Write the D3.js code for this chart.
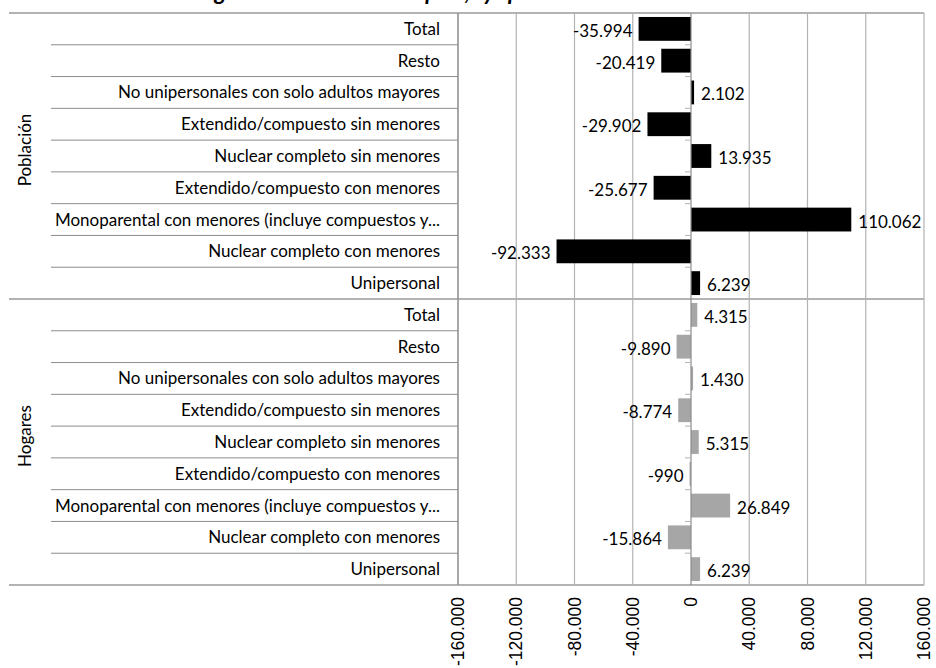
<!DOCTYPE html>
<html>
<head>
<meta charset="utf-8">
<script src="https://cdn.jsdelivr.net/npm/d3@7"></script>
<style>
  body { margin: 0; background: #fff; }
  svg { display: block; }
  .cat { font-family: Lato, "Open Sans", sans-serif; font-size: 17px; fill: #000; }
  .val { font-family: Lato, "Open Sans", sans-serif; font-size: 17px; fill: #000; }
  .tick-label { font-family: "Liberation Sans", Arial, sans-serif; font-size: 17.5px; fill: #000; }
</style>
</head>
<body>
<div id="chart"></div>
<script>
// Variación de hogares y población por tipo de hogar

const titleText = 'Variación de hogares del total del país, y población';

const groups = ['Población', 'Hogares'];

const categories = [
    'Total',
    'Resto',
    'No unipersonales con solo adultos mayores',
    'Extendido/compuesto sin menores',
    'Nuclear completo sin menores',
    'Extendido/compuesto con menores',
    'Monoparental con menores (incluye compuestos y...',
    'Nuclear completo con menores',
    'Unipersonal'
];

const poblacion = [-35994, -20419, 2102, -29902, 13935, -25677, 110062, -92333, 6239];
const hogares = [4315, -9890, 1430, -8774, 5315, -990, 26849, -15864, 6239];

const tickValues = [-160000, -120000, -80000, -40000, 0, 40000, 80000, 120000, 160000];

const groupColors = ['#000000', '#a6a6a6'];

const width = 936;
const height = 668;
const plotLeft = 458, plotRight = 924, plotTop = 13, plotBottom = 585;
const frameLeft = 9, catLeft = 51;

const locale = d3.formatLocale({
    decimal: ',', thousands: '.', grouping: [3], currency: ['$', ''], minus: '-'
});
const fmt = locale.format(',d');

// Build rows: one per (group, category)
const rows = [];
[poblacion, hogares].forEach((series, g) => {
    series.forEach((v, i) => {
        rows.push({ key: g + '|' + i, group: g, label: categories[i], value: v });
    });
});

const svg = d3.select('#chart')
    .append('svg')
    .attr('width', width)
    .attr('height', height);

const x = d3.scaleLinear()
    .domain([-160000, 160000])
    .range([plotLeft, plotRight]);

const rowScale = d3.scaleBand()
    .domain(rows.map(d => d.key))
    .range([plotTop, plotBottom])
    .padding(0);

const barScale = d3.scaleBand()
    .domain(rows.map(d => d.key))
    .range([plotTop, plotBottom])
    .paddingInner(0.25)
    .paddingOuter(0.125);

const step = rowScale.step();

// Title: only its lower edge shows at the top of the picture, as in the source
const title = svg.append('text')
    .attr('x', 0)
    .attr('y', 0)
    .attr('font-family', 'Lato, sans-serif')
    .attr('font-size', 23)
    .attr('font-weight', 'bold')
    .attr('font-style', 'italic')
    .text(titleText);

// line the "g" and the ", y p" up with where they sit in the source
const tNode = title.node();
const gPos = tNode.getSubStringLength(0, titleText.indexOf('g'));
title.attr('x', 197 - gPos);
const commaIdx = titleText.indexOf(',');
const commaPos = tNode.getSubStringLength(0, commaIdx) - gPos;
const spaces = titleText.slice(titleText.indexOf('g'), commaIdx).split(' ').length - 1;
title.attr('word-spacing', Math.max(0, (250 - commaPos) / spaces));

// Grid lines
svg.append('g')
    .selectAll('line')
    .data(tickValues.filter(t => t !== 0))
    .enter()
    .append('line')
    .attr('x1', d => x(d))
    .attr('x2', d => x(d))
    .attr('y1', plotTop)
    .attr('y2', plotBottom)
    .attr('stroke', '#b3b3b3')
    .attr('stroke-width', 1.2);

// Row separators in the label column
svg.append('g')
    .selectAll('line')
    .data(rows.filter((d, i) => i % 9 !== 0))
    .enter()
    .append('line')
    .attr('x1', catLeft)
    .attr('x2', plotLeft)
    .attr('y1', d => rowScale(d.key))
    .attr('y2', d => rowScale(d.key))
    .attr('stroke', '#8c8c8c')
    .attr('stroke-width', 1);

// Group separators / frame horizontal lines
const groupEdges = [plotTop, rowScale(rows[9].key), plotBottom];
svg.append('g')
    .selectAll('line')
    .data(groupEdges)
    .enter()
    .append('line')
    .attr('x1', frameLeft)
    .attr('x2', plotRight)
    .attr('y1', d => d)
    .attr('y2', d => d)
    .attr('stroke', '#b3b3b3')
    .attr('stroke-width', 2);

// Label column border
svg.append('line')
    .attr('x1', plotLeft).attr('x2', plotLeft)
    .attr('y1', plotTop).attr('y2', plotBottom)
    .attr('stroke', '#8c8c8c')
    .attr('stroke-width', 1.2);

// Bars
svg.append('g')
    .selectAll('rect')
    .data(rows)
    .enter()
    .append('rect')
    .attr('x', d => x(Math.min(0, d.value)))
    .attr('y', d => barScale(d.key))
    .attr('width', d => Math.abs(x(d.value) - x(0)))
    .attr('height', barScale.bandwidth())
    .attr('fill', d => groupColors[d.group]);

// Zero axis with small ticks at row boundaries
svg.append('line')
    .attr('x1', x(0)).attr('x2', x(0))
    .attr('y1', plotTop).attr('y2', plotBottom)
    .attr('stroke', '#8c8c8c')
    .attr('stroke-width', 1.2);

svg.append('g')
    .selectAll('line')
    .data(rows.filter((d, i) => i % 9 !== 0))
    .enter()
    .append('line')
    .attr('x1', x(0) - 6)
    .attr('x2', x(0))
    .attr('y1', d => rowScale(d.key))
    .attr('y2', d => rowScale(d.key))
    .attr('stroke', '#b3b3b3')
    .attr('stroke-width', 1);

// Value labels
svg.append('g')
    .selectAll('text')
    .data(rows)
    .enter()
    .append('text')
    .attr('class', 'val')
    .attr('x', d => d.value < 0 ? x(d.value) - 6 : x(d.value) + 7)
    .attr('y', d => rowScale(d.key) + step / 2 + 2)
    .attr('dy', '0.35em')
    .attr('text-anchor', d => d.value < 0 ? 'end' : 'start')
    .text(d => fmt(d.value));

// Category labels
svg.append('g')
    .selectAll('text')
    .data(rows)
    .enter()
    .append('text')
    .attr('class', 'cat')
    .attr('x', plotLeft - 18)
    .attr('y', d => rowScale(d.key) + step / 2)
    .attr('dy', '0.35em')
    .attr('text-anchor', 'end')
    .text(d => d.label);

// Group labels
svg.append('g')
    .selectAll('text')
    .data(groups)
    .enter()
    .append('text')
    .attr('class', 'cat')
    .attr('transform', (d, g) => {
        const y0 = rowScale(rows[g * 9].key);
        const y1 = rowScale(rows[g * 9 + 8].key) + step;
        return `translate(25,${(y0 + y1) / 2 - 6}) rotate(-90)`;
    })
    .attr('dy', '0.35em')
    .attr('text-anchor', 'middle')
    .text(d => d);

// X axis tick labels (rotated)
svg.append('g')
    .selectAll('text')
    .data(tickValues)
    .enter()
    .append('text')
    .attr('class', 'tick-label')
    .attr('transform', d => `translate(${x(d)},${plotBottom + 12}) rotate(-90)`)
    .attr('dy', '0.35em')
    .attr('text-anchor', 'end')
    .text(d => fmt(d));
</script>
</body>
</html>
